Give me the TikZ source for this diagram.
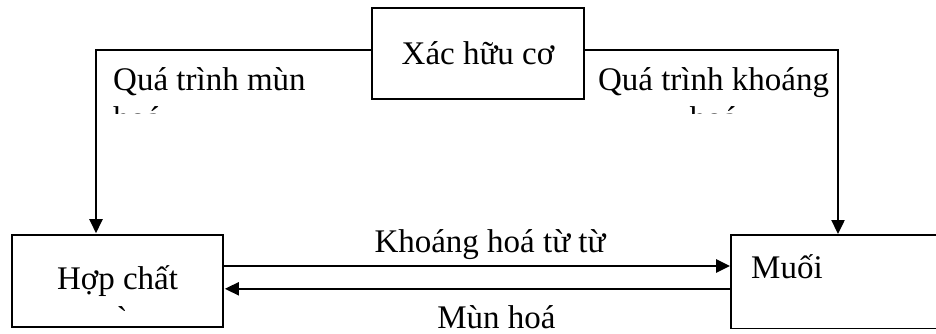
\documentclass[tikz,border=0pt]{standalone}
\usepackage{fontspec}
\setmainfont{Liberation Serif}
\usetikzlibrary{positioning,arrows.meta}

\begin{document}
\begin{tikzpicture}[>={Triangle[length=14pt,width=13pt]}, every node/.style={font=\fontsize{33pt}{39pt}\selectfont}, box/.style={draw, rectangle, line width=1.6pt, inner sep=0pt}, lbl/.style={inner sep=0pt}, heavy/.style={line width=2.8pt}, light/.style={line width=1.8pt}, feed/.style={line width=2.4pt}, shorten >=1pt]
	\useasboundingbox (0pt, 0pt) rectangle (936pt, -333pt);
	\draw (478.0pt, -53.5pt)node[box, minimum width=212pt, minimum height=91pt](org){Xác hữu cơ};
	\draw (117.5pt, -281.0pt)node[box, minimum width=211pt, minimum height=92pt](hop){Hợp chất};
	% box runs on past the right edge
	\path (731.0pt, -235.0pt)node[box, draw=none, anchor=north west, minimum width=260pt, minimum height=92pt](muoi){};
	\draw[line width=1.6pt] (muoi.north east) -- (muoi.north west) -- (muoi.south west) -- (muoi.south east);
	\draw (751.0pt, -278.0pt)node[lbl, anchor=base west](muoiText){Muối};
	\draw (122.0pt, -329.0pt)node[lbl, anchor=base](hopMark){\symbol{"02CB}};
	\draw (113.0pt, -90.0pt)node[lbl, anchor=base west](mun){Quá trình mùn};
	\draw (713.5pt, -90.0pt)node[lbl, anchor=base](khoang){Quá trình khoáng};
	\draw (490.0pt, -252.0pt)node[lbl, anchor=base](tuTu){Khoáng hoá từ từ};
	\draw (496.5pt, -328.0pt)node[lbl, anchor=base](munHoa){Mùn hoá};
	\begin{scope}
	\clip (0pt, -100pt) rectangle (936pt, -113pt);
	\draw ([yshift=-39pt]mun.base west)node[lbl, anchor=base west](munCut){hoá};
	\draw ([yshift=-39pt]khoang.base)node[lbl, anchor=base](khoangCut){hoá};
	\end{scope}
	\draw[->, feed] ([yshift=3.5pt]org.west) -| ([xshift=-21.5pt]hop.north);
	\draw[->, feed] ([yshift=3.5pt]org.east) -| ([xshift=107pt]muoi.north west);
	\draw[->, heavy] ([yshift=15pt]hop.east) -- ([yshift=15pt]hop.east -| muoi.west);
	\draw[->, light] ([yshift=-7pt]muoi.west) -- ([yshift=-7pt]muoi.west -| hop.east);
\end{tikzpicture}
\end{document}
